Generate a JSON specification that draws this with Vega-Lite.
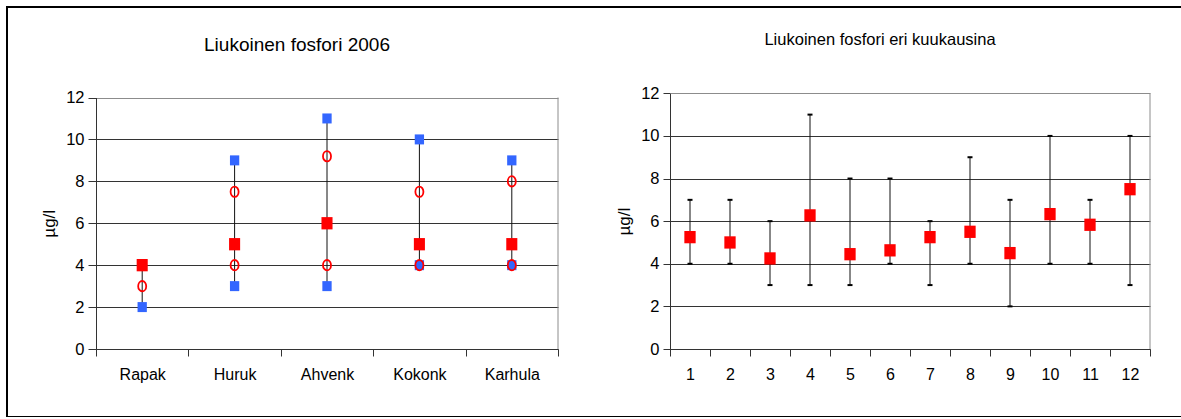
{
  "$schema": "https://vega.github.io/schema/vega-lite/v6.json",
  "width": 1180,
  "height": 410,
  "autosize": "none",
  "padding": {"left": 7, "top": 7, "right": 0, "bottom": 0},
  "background": "white",
  "config": {
    "view": {"stroke": "#000000", "strokeWidth": 2},
    "font": "Liberation Sans",
    "axis": {
      "labelFont": "Liberation Sans",
      "labelColor": "#000000",
      "labelFontSize": 16,
      "titleFont": "Liberation Sans",
      "titleFontWeight": "normal",
      "titleFontSize": 17,
      "titleColor": "#000000",
      "domainColor": "#333333",
      "tickColor": "#333333",
      "gridOpacity": 1
    }
  },
  "datasets": {
    "stations": [
      {"station": "Rapak", "min": 2, "q1": 3, "median": 4, "q3": 4, "max": 4},
      {"station": "Huruk", "min": 3, "q1": 4, "median": 5, "q3": 7.5, "max": 9},
      {"station": "Ahvenk", "min": 3, "q1": 4, "median": 6, "q3": 9.2, "max": 11},
      {"station": "Kokonk", "min": 4, "q1": 4, "median": 5, "q3": 7.5, "max": 10},
      {"station": "Karhula", "min": 4, "q1": 4, "median": 5, "q3": 8, "max": 9}
    ],
    "months": [
      {"month": 1, "mean": 5.25, "min": 4, "max": 7},
      {"month": 2, "mean": 5.0, "min": 4, "max": 7},
      {"month": 3, "mean": 4.25, "min": 3, "max": 6},
      {"month": 4, "mean": 6.27, "min": 3, "max": 11},
      {"month": 5, "mean": 4.45, "min": 3, "max": 8},
      {"month": 6, "mean": 4.63, "min": 4, "max": 8},
      {"month": 7, "mean": 5.25, "min": 3, "max": 6},
      {"month": 8, "mean": 5.5, "min": 4, "max": 9},
      {"month": 9, "mean": 4.5, "min": 2, "max": 7},
      {"month": 10, "mean": 6.33, "min": 4, "max": 10},
      {"month": 11, "mean": 5.83, "min": 4, "max": 7},
      {"month": 12, "mean": 7.5, "min": 3, "max": 10}
    ],
    "titles": [
      {"left": "Liukoinen fosfori 2006", "right": "Liukoinen fosfori eri kuukausina"}
    ]
  },
  "layer": [
    {
      "data": {"name": "stations"},
      "layer": [
        {
          "mark": {"type": "rule", "color": "#111111", "strokeWidth": 1},
          "encoding": {
            "x": {
              "field": "station", "type": "nominal", "sort": null,
              "scale": {"domain": ["Rapak", "Huruk", "Ahvenk", "Kokonk", "Karhula"], "range": [89, 551], "paddingInner": 0, "paddingOuter": 0},
              "axis": {"orient": "bottom", "offset": -68, "title": null, "grid": false, "tickBand": "extent", "tickSize": 7, "labelPadding": 10, "labelAngle": 0, "labelFontSize": 16}
            },
            "y": {
              "field": "min", "type": "quantitative",
              "scale": {"domain": [0, 12], "range": [342, 90.5], "nice": false},
              "axis": {
                "orient": "left", "offset": -89, "title": "µg/l", "values": [0, 2, 4, 6, 8, 10, 12],
                "grid": true,
                "gridColor": {"condition": {"test": "datum.value === 12", "value": "#8c8c8c"}, "value": "#333333"},
                "tickSize": 8, "labelPadding": 4, "titlePadding": 7, "labelFontSize": 16.5
              }
            },
            "y2": {"field": "max"}
          }
        },
        {
          "mark": {"type": "rule", "color": "#8c8c8c", "strokeWidth": 1},
          "data": {"values": [{"station": "Karhula", "lo": 0, "hi": 12}]},
          "encoding": {
            "x": {"field": "station", "type": "nominal", "bandPosition": 1},
            "y": {"field": "lo", "type": "quantitative"},
            "y2": {"field": "hi"}
          }
        },
        {
          "mark": {"type": "point", "shape": "M -0.93 -1 L 0.93 -1 L 0.93 1 L -0.93 1 Z", "filled": true, "color": "#3366FF", "size": 100, "opacity": 1},
          "encoding": {
            "x": {"field": "station", "type": "nominal"},
            "y": {"field": "min", "type": "quantitative"}
          }
        },
        {
          "mark": {"type": "point", "shape": "M -0.93 -1 L 0.93 -1 L 0.93 1 L -0.93 1 Z", "filled": true, "color": "#3366FF", "size": 100, "opacity": 1},
          "encoding": {
            "x": {"field": "station", "type": "nominal"},
            "y": {"field": "max", "type": "quantitative"}
          }
        },
        {
          "mark": {"type": "point", "shape": "M 0 -1 C 0.43 -1 0.78 -0.552 0.78 0 C 0.78 0.552 0.43 1 0 1 C -0.43 1 -0.78 0.552 -0.78 0 C -0.78 -0.552 -0.43 -1 0 -1 Z", "filled": false, "stroke": "#FF0000", "strokeWidth": 1.8, "size": 106, "opacity": 1},
          "encoding": {
            "x": {"field": "station", "type": "nominal"},
            "y": {"field": "q1", "type": "quantitative"}
          }
        },
        {
          "mark": {"type": "point", "shape": "M 0 -1 C 0.43 -1 0.78 -0.552 0.78 0 C 0.78 0.552 0.43 1 0 1 C -0.43 1 -0.78 0.552 -0.78 0 C -0.78 -0.552 -0.43 -1 0 -1 Z", "filled": false, "stroke": "#FF0000", "strokeWidth": 1.8, "size": 106, "opacity": 1},
          "encoding": {
            "x": {"field": "station", "type": "nominal"},
            "y": {"field": "q3", "type": "quantitative"}
          }
        },
        {
          "mark": {"type": "point", "shape": "M -0.9 -1 L 0.9 -1 L 0.9 1 L -0.9 1 Z", "filled": true, "color": "#FF0000", "size": 151, "opacity": 1},
          "encoding": {
            "x": {"field": "station", "type": "nominal"},
            "y": {"field": "median", "type": "quantitative"}
          }
        },
        {
          "data": {"name": "titles"},
          "mark": {"type": "text", "fontSize": 19, "font": "Liberation Sans", "color": "#000000", "align": "center", "baseline": "middle", "dx": -30, "dy": -53},
          "encoding": {
            "x": {"datum": "Ahvenk", "type": "nominal"},
            "y": {"datum": 12, "type": "quantitative"},
            "text": {"field": "left"}
          }
        }
      ]
    },
    {
      "data": {"name": "months"},
      "layer": [
        {
          "mark": {"type": "rule", "color": "#111111", "strokeWidth": 1},
          "encoding": {
            "x": {
              "field": "month", "type": "ordinal",
              "scale": {"domain": [1, 2, 3, 4, 5, 6, 7, 8, 9, 10, 11, 12], "range": [663, 1143], "paddingInner": 0, "paddingOuter": 0},
              "axis": {"orient": "bottom", "offset": -68, "title": null, "grid": false, "tickBand": "extent", "tickSize": 7, "labelPadding": 10, "labelAngle": 0, "labelFontSize": 16}
            },
            "y": {
              "field": "min", "type": "quantitative",
              "scale": {"domain": [0, 12], "range": [342, 86.3], "nice": false},
              "axis": {
                "orient": "left", "offset": -663, "title": "µg/l", "values": [0, 2, 4, 6, 8, 10, 12],
                "grid": true,
                "gridColor": {"condition": {"test": "datum.value === 12", "value": "#8c8c8c"}, "value": "#333333"},
                "tickSize": 7, "labelPadding": 4, "titlePadding": 7, "labelFontSize": 16.5
              }
            },
            "y2": {"field": "max"}
          }
        },
        {
          "mark": {"type": "rule", "color": "#8c8c8c", "strokeWidth": 1},
          "data": {"values": [{"month": 12, "lo": 0, "hi": 12}]},
          "encoding": {
            "x": {"field": "month", "type": "ordinal", "bandPosition": 1},
            "y": {"field": "lo", "type": "quantitative"},
            "y2": {"field": "hi"}
          }
        },
        {
          "mark": {"type": "tick", "size": 5, "thickness": 2, "color": "#000000", "opacity": 1},
          "encoding": {
            "x": {"field": "month", "type": "ordinal"},
            "y": {"field": "min", "type": "quantitative"}
          }
        },
        {
          "mark": {"type": "tick", "size": 5, "thickness": 2, "color": "#000000", "opacity": 1},
          "encoding": {
            "x": {"field": "month", "type": "ordinal"},
            "y": {"field": "max", "type": "quantitative"}
          }
        },
        {
          "mark": {"type": "point", "shape": "M -0.92 -1 L 0.92 -1 L 0.92 1 L -0.92 1 Z", "filled": true, "color": "#FF0000", "size": 151, "opacity": 1},
          "encoding": {
            "x": {"field": "month", "type": "ordinal"},
            "y": {"field": "mean", "type": "quantitative"}
          }
        },
        {
          "data": {"name": "titles"},
          "mark": {"type": "text", "fontSize": 16.5, "font": "Liberation Sans", "color": "#000000", "align": "center", "baseline": "middle", "dx": -10, "dy": -53},
          "encoding": {
            "x": {"datum": 6, "type": "ordinal"},
            "y": {"datum": 12, "type": "quantitative"},
            "text": {"field": "right"}
          }
        }
      ]
    }
  ],
  "resolve": {"scale": {"x": "independent", "y": "independent"}}
}
